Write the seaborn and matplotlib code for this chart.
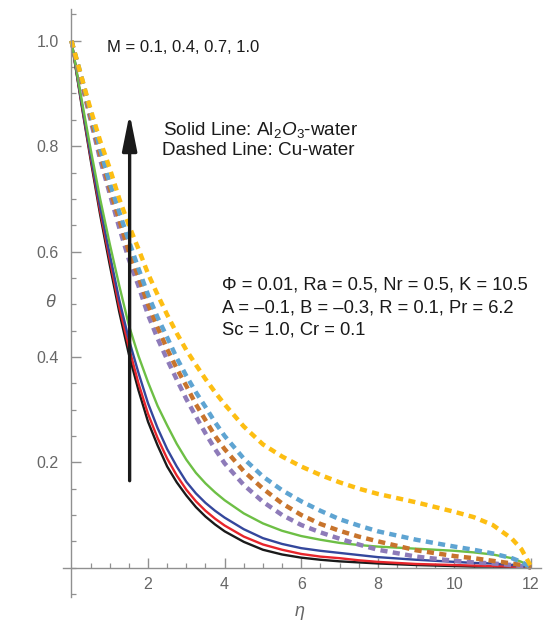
import numpy as np
import pandas as pd
import matplotlib
matplotlib.use("Agg")
import matplotlib.pyplot as plt
import seaborn as sns

# ---------------- data ----------------
eta = [0, 0.25, 0.5, 0.75, 1, 1.25, 1.5, 1.75, 2, 2.25, 2.5, 2.75, 3, 3.25, 3.5,
       3.75, 4, 4.5, 5, 5.5, 6, 6.5, 7, 7.5, 8, 9, 10, 10.5, 11, 11.5, 11.75, 12]

# Solid lines: Al2O3-water, M = 0.1, 0.4, 0.7, 1.0
al_m01 = [1.0, 0.885, 0.775, 0.67, 0.575, 0.485, 0.405, 0.337, 0.277, 0.232,
          0.192, 0.162, 0.137, 0.115, 0.097, 0.082, 0.069, 0.049, 0.034, 0.025,
          0.019, 0.015, 0.012, 0.010, 0.008, 0.005, 0.003, 0.002, 0.002, 0.001,
          0.0005, 0.0]
al_m04 = [1.0, 0.888, 0.78, 0.677, 0.585, 0.495, 0.418, 0.35, 0.292, 0.246,
          0.207, 0.175, 0.148, 0.126, 0.108, 0.093, 0.080, 0.059, 0.044, 0.034,
          0.026, 0.021, 0.018, 0.014, 0.011, 0.007, 0.005, 0.004, 0.003, 0.002,
          0.001, 0.0]
al_m07 = [1.0, 0.89, 0.785, 0.685, 0.595, 0.508, 0.433, 0.37, 0.312, 0.265,
          0.225, 0.192, 0.163, 0.141, 0.123, 0.108, 0.095, 0.073, 0.056, 0.045,
          0.037, 0.032, 0.028, 0.024, 0.020, 0.015, 0.011, 0.009, 0.008, 0.005,
          0.003, 0.0]
al_m10 = [1.0, 0.895, 0.795, 0.70, 0.615, 0.535, 0.46, 0.402, 0.352, 0.307,
          0.27, 0.235, 0.205, 0.18, 0.16, 0.143, 0.128, 0.103, 0.084, 0.070,
          0.060, 0.053, 0.047, 0.043, 0.040, 0.036, 0.032, 0.029, 0.025, 0.018,
          0.011, 0.001]

# Dashed lines: Cu-water, M = 0.1, 0.4, 0.7, 1.0
cu_m01 = [1.0, 0.925, 0.85, 0.775, 0.71, 0.645, 0.585, 0.535, 0.48, 0.435,
          0.395, 0.357, 0.32, 0.287, 0.255, 0.225, 0.198, 0.157, 0.125, 0.10,
          0.081, 0.067, 0.055, 0.044, 0.034, 0.021, 0.013, 0.010, 0.008, 0.005,
          0.003, 0.0]
cu_m04 = [1.0, 0.93, 0.857, 0.785, 0.72, 0.66, 0.60, 0.552, 0.50, 0.456,
          0.415, 0.378, 0.345, 0.31, 0.28, 0.25, 0.225, 0.183, 0.150, 0.122,
          0.100, 0.083, 0.070, 0.059, 0.050, 0.033, 0.022, 0.018, 0.013, 0.008,
          0.005, 0.0]
cu_m07 = [1.0, 0.935, 0.865, 0.795, 0.73, 0.675, 0.62, 0.568, 0.518, 0.475,
          0.437, 0.398, 0.364, 0.333, 0.305, 0.276, 0.250, 0.207, 0.173, 0.147,
          0.126, 0.108, 0.092, 0.080, 0.069, 0.053, 0.040, 0.034, 0.027, 0.018,
          0.011, 0.0]
cu_m10 = [1.0, 0.935, 0.87, 0.81, 0.758, 0.70, 0.65, 0.605, 0.558, 0.518,
          0.48, 0.445, 0.413, 0.385, 0.358, 0.333, 0.31, 0.268, 0.234, 0.211,
          0.192, 0.176, 0.162, 0.150, 0.140, 0.124, 0.106, 0.096, 0.081, 0.055,
          0.035, 0.002]

series_names = ["Al M=0.1", "Al M=0.4", "Al M=0.7", "Al M=1.0",
                "Cu M=0.1", "Cu M=0.4", "Cu M=0.7", "Cu M=1.0"]
series_vals = [al_m01, al_m04, al_m07, al_m10, cu_m01, cu_m04, cu_m07, cu_m10]

x_major = [2, 4, 6, 8, 10, 12]
y_major = [0.2, 0.4, 0.6, 0.8, 1.0]
y_major_labels = ["0.2", "0.4", "0.6", "0.8", "1.0"]

# ---------------- styling ----------------
colors = {
    "Al M=0.1": "#1a1a1a", "Al M=0.4": "#e8252b",
    "Al M=0.7": "#34479c", "Al M=1.0": "#6dbf45",
    "Cu M=0.1": "#8e7bb9", "Cu M=0.4": "#c8742c",
    "Cu M=0.7": "#5ea4d2", "Cu M=1.0": "#fdbe12",
}
dash_map = {n: ("" if n.startswith("Al") else (1.6, 1.2)) for n in series_names}
size_map = {n: (1.7 if n.startswith("Al") else 3.2) for n in series_names}

rows = []
for name, vals in zip(series_names, series_vals):
    for e, v in zip(eta, vals):
        rows.append({"eta": e, "theta": v, "series": name})
df = pd.DataFrame(rows)

sns.set_style("white")
plt.rcParams["font.family"] = ["Liberation Sans", "DejaVu Sans"]
plt.rcParams["mathtext.fontset"] = "custom"
plt.rcParams["mathtext.rm"] = "Liberation Sans"
plt.rcParams["mathtext.it"] = "Liberation Sans:italic"

fig = plt.figure(figsize=(5.43, 6.24), dpi=100)
ax = fig.add_axes([0.116, 0.043, 0.8796, 0.9423])

sns.lineplot(data=df, x="eta", y="theta", hue="series", style="series",
             size="series", hue_order=series_names, style_order=series_names,
             size_order=series_names, palette=colors, dashes=dash_map,
             sizes=size_map, legend=False, ax=ax, sort=True,
             estimator=None)
for ln in ax.get_lines():
    ln.set_dash_capstyle("butt")
    ln.set_solid_capstyle("butt")
    ln.set_solid_joinstyle("round")

ax.set_xlim(-0.22, 12.25)
ax.set_ylim(-0.056, 1.06)

axis_col = "#909090"
for s in ["top", "right"]:
    ax.spines[s].set_visible(False)
ax.spines["left"].set_position(("data", 0))
ax.spines["bottom"].set_position(("data", 0))
for s in ["left", "bottom"]:
    ax.spines[s].set_color(axis_col)
    ax.spines[s].set_linewidth(1.0)

ax.set_xticks(x_major)
ax.set_xticklabels([str(v) for v in x_major])
ax.set_xticks(np.arange(0.5, 12.01, 0.5), minor=True)
ax.set_yticks(y_major)
ax.set_yticklabels(y_major_labels)
ax.set_yticks(np.arange(-0.05, 1.051, 0.05), minor=True)
ax.tick_params(axis="both", which="both", bottom=True, left=True,
               top=False, right=False)
ax.tick_params(axis="both", which="major", direction="in", length=7,
               width=1.0, color=axis_col, labelcolor="#666666", labelsize=11.5,
               pad=7)
ax.tick_params(axis="y", which="major", pad=9)
ax.tick_params(axis="both", which="minor", direction="in", length=3.8,
               width=0.9, color=axis_col)
ax.set_xlabel("")
ax.set_ylabel("")

# axis labels
fig.text(300 / 543, 1 - 612 / 624, "η", style="italic", color="#666666",
         fontsize=13, ha="center", va="center")
fig.text(50 / 543, 1 - 302 / 624, "θ", style="italic", color="#666666",
         fontsize=13, ha="center", va="center")

# arrow
ax.annotate("", xy=(1.52, 0.862), xytext=(1.52, 0.165),
            arrowprops=dict(arrowstyle="-|>,head_length=1.1,head_width=0.22",
                            lw=2.4, color="#1a1a1a", mutation_scale=20,
                            shrinkA=0, shrinkB=0))

ax.text(0.93, 0.988, "M = 0.1, 0.4, 0.7, 1.0", color="#1a1a1a", fontsize=12,
        va="center", ha="left")
ax.text(2.39, 0.83, r"Solid Line: Al$_2$$\mathit{O}$$_3$-water",
        color="#1a1a1a", fontsize=13.6, va="center", ha="left")
ax.text(2.36, 0.791, "Dashed Line: Cu-water",
        color="#1a1a1a", fontsize=13.6, va="center", ha="left")
txt_kw = dict(color="#1a1a1a", fontsize=13.2, va="center", ha="left")
ax.text(3.92, 0.536, "Φ = 0.01, Ra = 0.5, Nr = 0.5, K = 10.5", **txt_kw)
ax.text(3.92, 0.493, "A = \u20130.1, B = \u20130.3, R = 0.1, Pr = 6.2", **txt_kw)
ax.text(3.92, 0.451, "Sc = 1.0, Cr = 0.1", **txt_kw)

fig.savefig("out.png", dpi=100)
